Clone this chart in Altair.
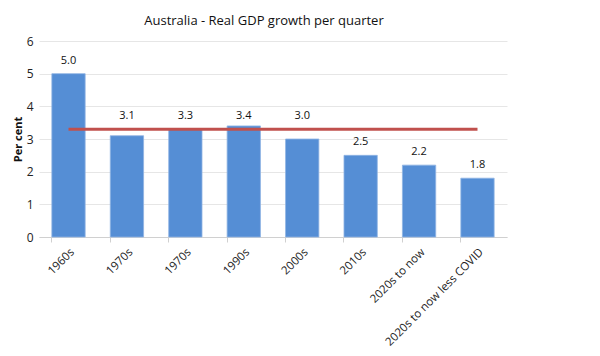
import altair as alt
import pandas as pd

labels = ["1960s", "1970s", "1970s", "1990s", "2000s", "2010s", "2020s to now", "2020s to now less COVID"]
values = [5.0, 3.1, 3.3, 3.4, 3.0, 2.5, 2.2, 1.8]
average = [3.3] * len(labels)

df = pd.DataFrame({"idx": list(range(len(labels))), "label": labels, "value": values, "avg": average})

label_expr = "[" + ",".join("'" + l + "'" for l in labels) + "][datum.value]"

x = alt.X("idx:O", title=None, scale=alt.Scale(paddingInner=0.43, paddingOuter=0.22),
          axis=alt.Axis(labelExpr=label_expr, labelAngle=-45, labelFont="Open Sans", labelFontSize=11.5,
                        labelColor="#222", domainColor="#d0d0d0", tickColor="#d0d0d0", tickSize=5,
                        bandPosition=0, labelPadding=4, grid=False))

y_scale = alt.Scale(domain=[0, 6])
y_axis = alt.Axis(values=[0, 1, 2, 3, 4, 5, 6], format="d", labelFont="Open Sans", labelFontSize=12,
                  labelColor="#222", titleFont="Open Sans", titleFontSize=11, titleFontWeight="bold",
                  titleColor="#111", domain=False, ticks=False, gridColor="#e6e6e6",
                  labelPadding=6, titlePadding=3, labelOverlap=False)

base = alt.Chart(df)

bars = base.mark_bar(color="#558ED5", stroke="#8fb4e3", strokeWidth=0.8).encode(
    x=x,
    y=alt.Y("value:Q", title="Per cent", scale=y_scale, axis=y_axis),
)

line = base.mark_line(color="#C0504D", strokeWidth=3).encode(
    x=x, y=alt.Y("avg:Q", title="Per cent", scale=y_scale, axis=y_axis))

text = base.transform_calculate(
    ly="(datum.value > 2.9 && datum.value < 4) ? 3.3 : datum.value"
).mark_text(dy=-13, font="Open Sans", fontSize=11, color="#111").encode(
    x=x, y=alt.Y("ly:Q", title="Per cent", scale=y_scale, axis=y_axis),
    text=alt.Text("value:Q", format=".1f")
)

chart = alt.layer(bars, line, text).properties(
    width=468, height=196,
    title=alt.TitleParams("Australia - Real GDP growth per quarter", font="Open Sans", fontSize=13,
                          fontWeight="normal", color="#111", anchor="middle", dx=-9, offset=7),
    padding={"left": 12, "top": 15, "right": 5, "bottom": 5},
    background="white",
).configure_view(stroke=None)

chart.save("out.html", embed_options={"renderer": "svg", "actions": False})
